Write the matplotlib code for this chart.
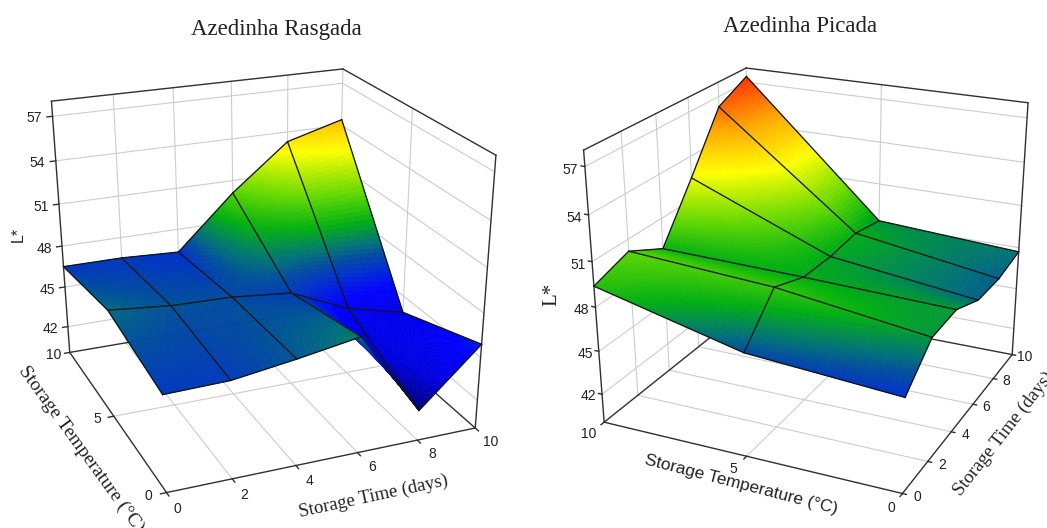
import numpy as np
import matplotlib
matplotlib.use("Agg")
import matplotlib.pyplot as plt
from matplotlib.colors import LinearSegmentedColormap

# ---------- data ----------
storage_time = [0, 2, 4, 6, 8, 10]
storage_temp = [0, 5, 10]
L_ticks = [42, 45, 48, 51, 54, 57]
time_ticks = [0, 2, 4, 6, 8, 10]
temp_ticks = [0, 5, 10]
L_lo, L_hi = 40.0, 58.0

rasgada_T0 = [46.5, 46.6, 47.2, 47.9, 42.1, 45.9]
rasgada_T5 = [47.5, 47.1, 47.0, 46.6, 44.8, 43.8]
rasgada_T10 = [46.5, 46.5, 46.3, 50.1, 53.3, 54.4]
picada_T0 = [46.3, 48.3, 48.4, 47.4, 47.3, 47.7]
picada_T5 = [47.0, 49.6, 48.7, 48.6, 48.8, 48.3]
picada_T10 = [49.4, 50.2, 48.9, 52.5, 56.3, 57.4]

stop_vals = [40, 42, 43.5, 45.2, 46.4, 47.0, 47.5, 47.9, 48.8, 50.3, 52.7, 55, 57.5, 58]
stop_cols = ['#00003c', '#00006e', '#0000e0', '#0000ff', '#0032c8', '#004aa0', '#006a80',
             '#008060', '#00b010', '#60d800', '#ffff00', '#ffa800', '#ff2800', '#ff2000']

# camera calibration: axis box location -> pixel in the figure
cam_left_axes = [(0, 0, 40), (10, 0, 40), (0, 10, 40), (0, 10, 58), (10, 0, 58), (10, 10, 58),
                 (2, 0, 40), (4, 0, 40), (6, 0, 40), (8, 0, 40), (0, 5, 40),
                 (0, 10, 57), (0, 10, 51), (0, 10, 45)]
cam_left_px = [(166, 493), (475, 428), (70, 353), (53, 101), (496, 155), (343, 69),
               (232, 478), (296, 466), (358, 453), (417, 440), (115, 416),
               (51, 117), (59, 204), (64, 286)]
cam_right_axes = [(0, 10, 40), (0, 0, 40), (10, 0, 40), (0, 10, 58), (10, 10, 58), (10, 0, 58),
                  (0, 5, 40), (2, 0, 40), (4, 0, 40), (6, 0, 40), (8, 0, 40),
                  (0, 10, 57), (0, 10, 51), (0, 10, 45)]
cam_right_px = [(605, 422), (902, 493), (1012, 354), (584, 149), (746, 68), (1028, 103),
                (746, 456), (927, 461), (953, 433), (973, 405), (993, 378),
                (585, 167), (592, 262), (598, 352)]

INK = '#303030'
GRID = '#cccccc'
cmap = LinearSegmentedColormap.from_list(
    'lstar', [((v - L_lo) / (L_hi - L_lo), c) for v, c in zip(stop_vals, stop_cols)])

FIG_W, FIG_H = 1047, 528
fig = plt.figure(figsize=(FIG_W / 100, FIG_H / 100), dpi=100, facecolor='white')


def px_text(x, y, s, rot=0, size=13.5, fam='Liberation Serif'):
    fig.text(x / FIG_W, 1 - y / FIG_H, s, rotation=rot, rotation_mode='anchor',
             ha='center', va='center', fontsize=size, family=fam, color='#222222')


def fit_camera(axes_pts, px_pts):
    """Direct linear transform from axis coordinates to figure pixels."""
    N = np.array([[.1, 0, 0, 0], [0, .1, 0, 0],
                  [0, 0, 1 / (L_hi - L_lo), -L_lo / (L_hi - L_lo)], [0, 0, 0, 1]])
    rows = []
    for (a, b, c), (u, v) in zip(axes_pts, px_pts):
        X = list(N @ np.array([a, b, c, 1.0]))
        rows.append(X + [0, 0, 0, 0] + [-u * x for x in X])
        rows.append([0, 0, 0, 0] + X + [-v * x for x in X])
    P = np.linalg.svd(np.array(rows, float))[2][-1].reshape(3, 4) @ N
    mid = np.array([5, 5, 49, 1.0])
    return P / (P[2] @ mid)


def surface_panel(pos, cam_axes, cam_px, rows, t_off, T_off, L_off, t_tick, T_tick, L_tick):
    ax = fig.add_axes(pos, projection='3d', computed_zorder=False)
    ax.set_axis_off()
    ax.set_xlim(0, 10); ax.set_ylim(0, 10); ax.set_zlim(L_lo, L_hi)
    ax.apply_aspect()
    P = fit_camera(cam_axes, cam_px)
    inv = ax.transData.inverted()
    o = inv.transform((0, 0)); e = inv.transform((1, 1))
    A = np.array([[e[0] - o[0], 0, o[0]],
                  [0, -(e[1] - o[1]), o[1] + (e[1] - o[1]) * FIG_H],
                  [0, 0, 1]])
    Q = A @ P
    M = np.vstack([Q[0], Q[1], [0, 0, 0, -1], Q[2]])
    ax.get_proj = lambda: M

    def seg(a, b, **kw):
        ax.plot([a[0], b[0]], [a[1], b[1]], [a[2], b[2]], **kw)

    def label(t, T, L, s):
        h = P @ np.array([t, T, L, 1.0])
        px_text(h[0] / h[2], h[1] / h[2], s, size=10, fam='Liberation Sans')

    grid = dict(color=GRID, lw=0.8, zorder=1)
    for L in L_ticks:
        seg((0, 10, L), (10, 10, L), **grid)
        seg((10, 10, L), (10, 0, L), **grid)
    for t in time_ticks[1:-1]:
        seg((t, 10, L_lo), (t, 10, L_hi), **grid)
        seg((t, 0, L_lo), (t, 10, L_lo), **grid)
    seg((10, 5, L_lo), (10, 5, L_hi), **grid)
    seg((0, 5, L_lo), (10, 5, L_lo), **grid)
    seg((10, 10, L_lo), (10, 10, L_hi), **grid)

    edge = dict(color=INK, lw=1.0, zorder=1.5)
    seg((0, 10, L_hi), (10, 10, L_hi), **edge)
    seg((10, 10, L_hi), (10, 0, L_hi), **edge)
    seg((0, 10, L_lo), (0, 10, L_hi), **edge)
    seg((10, 0, L_lo), (10, 0, L_hi), **edge)
    seg((0, 0, L_lo), (10, 0, L_lo), **edge)
    seg((0, 0, L_lo), (0, 10, L_lo), **edge)
    seg((0, 10, L_lo), (10, 10, L_lo), **edge)
    seg((10, 0, L_lo), (10, 10, L_lo), **edge)

    for t in time_ticks:
        seg((t, 0, L_lo), (t, t_tick, L_lo), **edge)
        label(t, t_off, L_lo, str(t))
    for T in temp_ticks:
        seg((0, T, L_lo), (T_tick, T, L_lo), **edge)
        label(T_off, T, L_lo, str(T))
    for L in L_ticks:
        if L_off[0] == 't':
            seg((0, 10, L), (L_tick, 10, L), **edge)
            label(L_off[1], 10, L, str(L))
        else:
            seg((0, 10, L), (0, L_tick, L), **edge)
            label(0, L_off[1], L + L_off[2], str(L))

    Z = np.array(rows, float)
    ts = np.linspace(0, 10, 161)
    Ts = np.linspace(0, 10, 81)
    by_time = np.array([np.interp(ts, storage_time, r) for r in Z])
    ZZ = np.array([np.interp(Ts, storage_temp, by_time[:, i]) for i in range(len(ts))]).T
    X, Y = np.meshgrid(ts, Ts)
    mid = ZZ.copy()
    mid[:-1, :-1] = (ZZ[:-1, :-1] + ZZ[1:, :-1] + ZZ[:-1, 1:] + ZZ[1:, 1:]) / 4
    ax.plot_surface(X, Y, ZZ, facecolors=cmap((mid - L_lo) / (L_hi - L_lo)),
                    rstride=1, cstride=1, shade=False, linewidth=0.4, zorder=2)
    mesh = dict(color='#101810', lw=0.95, zorder=3)
    for i, t in enumerate(storage_time):
        ax.plot([t] * 3, storage_temp, Z[:, i], **mesh)
    for j, T in enumerate(storage_temp):
        ax.plot(storage_time, [T] * 6, Z[j], **mesh)
    return ax


side = FIG_H / FIG_W
surface_panel([-9 / FIG_W, 0, side, 1], cam_left_axes, cam_left_px,
              [rasgada_T0, rasgada_T5, rasgada_T10],
              t_off=-0.95, T_off=-0.55, L_off=('t', -0.6), t_tick=-0.2, T_tick=-0.18, L_tick=-0.18)
surface_panel([525 / FIG_W, 0, side, 1], cam_right_axes, cam_right_px,
              [picada_T0, picada_T5, picada_T10],
              t_off=-0.45, T_off=-0.85, L_off=('T', 10.5, -0.38), t_tick=-0.12, T_tick=-0.18, L_tick=10.13)

px_text(276, 29, 'Azedinha Rasgada', size=16.5)
px_text(800, 27, 'Azedinha Picada', size=16.5)
px_text(18, 234, 'L*', rot=90, size=11.5, fam='Liberation Sans')
px_text(81, 449, 'Storage Temperature (°C)', rot=-54, size=14)
px_text(374, 496, 'Storage Time (days)', rot=12.2)
px_text(552, 294, 'L*', rot=90, size=15)
px_text(741, 485, 'Storage Temperature (°C)', rot=-14.5, size=12.5, fam='Liberation Sans')
px_text(1004, 434, 'Storage Time (days)', rot=52)

fig.savefig('out.png', dpi=100)
